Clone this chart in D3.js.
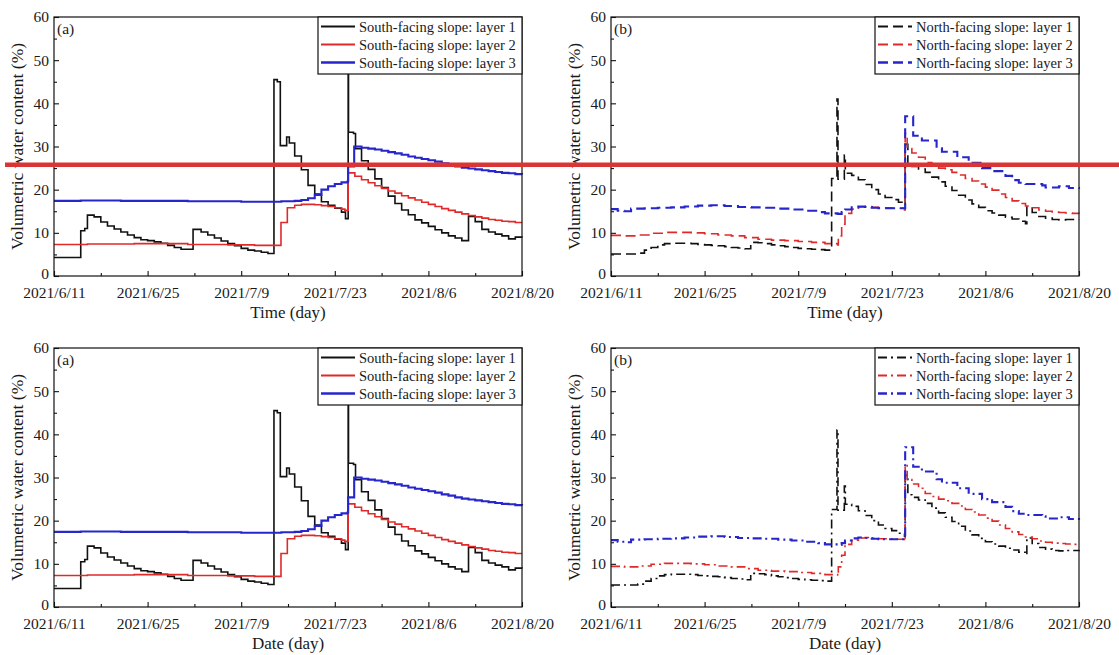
<!DOCTYPE html>
<html>
<head>
<meta charset="utf-8">
<script src="https://cdn.jsdelivr.net/npm/d3@7"></script>
<style>
  html, body { margin: 0; padding: 0; background: #fff; }
  svg { display: block; font-family: "Liberation Serif", "Times New Roman", serif; }
</style>
</head>
<body>
<svg id="chart" width="1119" height="655"></svg>
<script>
// ---------- data (day offset from 2021/6/11, volumetric water content %) ----------
const startDate = new Date(2021, 5, 11);
const endDate = new Date(2021, 7, 20);
const majorTickDays = [0, 14, 28, 42, 56, 70];
const minorTickDays = [7, 21, 35, 49, 63];
const yMajorTicks = [0, 10, 20, 30, 40, 50, 60];
const yMinorTicks = [5, 15, 25, 35, 45, 55];

const southLabels = ["South-facing slope: layer 1", "South-facing slope: layer 2", "South-facing slope: layer 3"];
const northLabels = ["North-facing slope: layer 1", "North-facing slope: layer 2", "North-facing slope: layer 3"];

const southL1 = [[0,4.3],[4,10.5],[4.6,11.0],[5,14.1],[6,13.7],[7,12.5],[8,11.6],[9,10.9],[10,10.2],[11,9.5],[12,8.9],[13,8.4],[14,8.2],[15,7.9],[16,7.6],[17,7.1],[18,6.6],[19,6.2],[20.8,10.8],[22,10.2],[23,9.5],[24,8.8],[25,8.1],[26,7.5],[27,7.0],[28,6.4],[29,6.0],[30,5.8],[31,5.5],[32,5.2],[32.9,45.5],[33.4,45.0],[33.85,30.2],[34.8,32.2],[35.2,30.8],[36,27.8],[37,24.6],[38,21.0],[39,19.0],[40,17.2],[41,16.4],[42,15.7],[43,14.8],[43.6,13.3],[44,52.0],[44.05,33.3],[44.8,33.0],[45.1,29.5],[46,26.7],[47,24.7],[48,22.5],[49,20.5],[50,18.5],[51,16.8],[52,15.3],[53,14.2],[54,13.0],[55,12.3],[56,11.5],[57,10.7],[58,10.0],[59,9.3],[60,8.8],[61,8.2],[62,13.8],[63,12.6],[64,10.8],[65,10.2],[66,9.7],[67,9.3],[68,8.6],[69,9.0],[70,8.9]];
const southL2 = [[0,7.3],[5,7.4],[12,7.5],[20,7.3],[26,7.2],[30,7.1],[33.95,12.4],[34.9,15.8],[36,16.4],[37,16.6],[39,16.5],[40,16.3],[41,16.1],[42,15.8],[43,15.5],[43.5,15.2],[44,23.9],[45,23.1],[46,22.3],[47,21.6],[48,20.9],[49,20.3],[50,19.7],[51,19.2],[52,18.6],[53,18.1],[54,17.6],[55,17.1],[56,16.6],[57,16.1],[58,15.6],[59,15.2],[60,14.8],[61,14.4],[62,14.0],[63,13.7],[64,13.4],[65,13.1],[66,12.9],[67,12.7],[68,12.6],[69,12.4],[70,12.4]];
const southL3 = [[0,17.4],[4,17.5],[10,17.4],[20,17.3],[28,17.2],[34,17.3],[36,17.4],[37,17.6],[38,18.0],[39,18.8],[40,20.0],[41,20.8],[42,21.3],[43,21.7],[43.9,21.9],[44,25.4],[44.9,30.0],[46,29.7],[47,29.5],[48,29.3],[49,29.0],[50,28.7],[51,28.4],[52,28.1],[53,27.7],[54,27.4],[55,27.1],[56,26.8],[57,26.5],[58,26.1],[59,25.8],[60,25.4],[61,25.1],[62,24.9],[63,24.7],[64,24.5],[65,24.3],[66,24.1],[67,23.9],[68,23.8],[69,23.6],[70,23.5]];

const northL1 = [[0,5.1],[4,5.3],[5,6.0],[6,6.6],[7,7.2],[8,7.5],[9,7.6],[12,7.5],[13,7.3],[14,7.2],[15,7.1],[16,7.0],[17,6.8],[18,6.6],[19,6.5],[20,6.3],[20.9,7.8],[22,7.7],[23,7.5],[24,7.2],[25,7.0],[26,6.8],[27,6.6],[28,6.4],[29,6.3],[30,6.2],[31,6.1],[32,6.0],[33,22.6],[33.8,41.0],[33.95,22.4],[34.9,28.0],[35.05,23.8],[36,23.3],[37,22.3],[38,21.2],[39,20.0],[40,19.0],[41,18.2],[42,17.7],[43,17.1],[43.9,16.4],[44,30.5],[44.4,26.0],[45,25.4],[46,24.8],[47,24.0],[48,22.9],[49,21.8],[50,20.8],[51,19.8],[52,18.7],[53,17.6],[54,16.7],[55,15.9],[56,15.1],[57,14.6],[58,14.1],[59,13.6],[60,13.2],[61,12.7],[62,12.1],[62.2,16.0],[63,14.7],[64,13.8],[65,13.4],[66,13.1],[67,13.0],[68,13.1],[70,13.2]];
const northL2 = [[0,9.4],[2,9.3],[4,9.5],[6,9.9],[8,10.1],[10,10.1],[12,10.0],[14,9.8],[16,9.5],[18,9.3],[20,8.9],[22,8.5],[24,8.3],[26,8.2],[28,8.0],[30,7.8],[32,7.5],[33.9,7.2],[34.0,9.3],[34.5,12.0],[35,14.5],[36,15.5],[37,16.0],[38,16.1],[39,15.9],[40,15.8],[42,15.7],[43.9,15.3],[44,33.0],[44.3,29.5],[45,28.5],[46,27.5],[47,26.3],[48,25.6],[49,25.0],[50,24.6],[51,24.0],[52,23.4],[53,22.6],[54,22.0],[55,21.3],[56,20.6],[57,19.9],[58,19.0],[59,18.2],[60,17.4],[61,16.8],[62,16.2],[63,15.8],[64,15.3],[65,15.0],[66,14.8],[67,14.7],[68,14.6],[69,14.5],[70,14.4]];
const northL3 = [[0,15.5],[1,15.1],[2,15.0],[3,15.6],[5,15.7],[7,15.8],[9,15.9],[11,16.1],[13,16.3],[15,16.4],[17,16.2],[19,16.0],[21,15.9],[23,15.8],[25,15.6],[27,15.4],[29,15.1],[31,14.8],[32,14.5],[33.9,14.4],[34.5,14.8],[35,15.4],[36,15.9],[37,16.1],[38,16.0],[39,15.8],[40,15.7],[43.9,15.7],[44,37.0],[45.2,32.5],[46.5,31.4],[48.7,29.6],[49.5,28.8],[51.8,27.5],[53.5,26.2],[55.5,25.0],[57,24.3],[59,23.2],[60,22.2],[61,21.6],[62,21.3],[64.5,21.0],[65,20.5],[67,20.8],[68.5,20.4],[70,20.2]];

const overlayValue = 25.8; // horizontal red marker line across the top row

// ---------- styling ----------
const colors = ["#111111", "#e02a2a", "#2626cc"];
const widths = [1.6, 1.6, 2.1];
const W = 468, H = 259;

const panels = [
  { x: 54,  y: 17,  letter: "(a)", labels: southLabels, series: [southL1, southL2, southL3], dash: null,        xTitle: "Time (day)", legX: 318 },
  { x: 611, y: 17,  letter: "(b)", labels: northLabels, series: [northL1, northL2, northL3], dash: "10,5",      xTitle: "Time (day)", legX: 875 },
  { x: 54,  y: 348, letter: "(a)", labels: southLabels, series: [southL1, southL2, southL3], dash: null,        xTitle: "Date (day)", legX: 318 },
  { x: 611, y: 348, letter: "(b)", labels: northLabels, series: [northL1, northL2, northL3], dash: "9,4,2,4",   xTitle: "Date (day)", legX: 875 }
];

const svg = d3.select("#chart");
svg.append("rect").attr("width", 1119).attr("height", 655).attr("fill", "#fff");

const toDate = d => new Date(startDate.getTime() + d * 86400000);
const fmt = d => `${d.getFullYear()}/${d.getMonth() + 1}/${d.getDate()}`;

let topY = null;

panels.forEach((p, pi) => {
  const g = svg.append("g").attr("transform", `translate(${p.x},${p.y})`);
  const x = d3.scaleTime().domain([startDate, endDate]).range([0, W]);
  const y = d3.scaleLinear().domain([0, 60]).range([H, 0]);
  if (pi === 0) topY = y;

  // lines
  const line = d3.line()
    .x(d => x(toDate(d[0])))
    .y(d => y(d[1]))
    .curve(d3.curveStepAfter);
  p.series.forEach((s, i) => {
    g.append("path")
      .datum(s)
      .attr("d", line)
      .attr("fill", "none")
      .attr("stroke", colors[i])
      .attr("stroke-width", widths[i])
      .attr("stroke-dasharray", p.dash)
      .attr("stroke-linejoin", "miter");
  });

  // axes
  const xMajor = majorTickDays.map(toDate);
  const xMinor = minorTickDays.map(toDate);
  g.append("g").attr("transform", `translate(0,${H})`)
    .call(d3.axisBottom(x).tickValues(xMajor).tickFormat(fmt).tickSize(-5).tickSizeOuter(0).tickPadding(11));
  g.append("g").attr("transform", `translate(0,${H})`)
    .call(d3.axisBottom(x).tickValues(xMinor).tickFormat("").tickSize(-3).tickSizeOuter(0));
  const yAx = g.append("g")
    .call(d3.axisLeft(y).tickValues(yMajorTicks).tickSize(-5).tickSizeOuter(0).tickPadding(5));
  g.append("g")
    .call(d3.axisLeft(y).tickValues(yMinorTicks).tickFormat("").tickSize(-3).tickSizeOuter(0));
  // lift the "0" label slightly so it clears the first date label
  yAx.selectAll(".tick").filter(d => d === 0).select("text").attr("y", -2);

  g.selectAll(".domain").remove();
  g.selectAll(".tick line").attr("stroke", "#111").attr("stroke-width", 1.1);
  g.selectAll(".tick text").attr("font-family", "Liberation Serif").attr("font-size", 15.5).attr("fill", "#1a1a1a");

  // frame
  g.append("rect").attr("x", 0).attr("y", 0).attr("width", W).attr("height", H)
    .attr("fill", "none").attr("stroke", "#111").attr("stroke-width", 1.2);

  // panel letter
  g.append("text").attr("x", 3).attr("y", 17).attr("font-size", 15.5).attr("fill", "#1a1a1a").text(p.letter);

  // axis titles
  g.append("text")
    .attr("transform", `translate(${-37},${H / 2}) rotate(-90)`)
    .attr("text-anchor", "middle").attr("dy", "0.35em")
    .attr("font-size", 17.5).attr("fill", "#1a1a1a")
    .text("Volumetric water content (%)");
  g.append("text")
    .attr("x", W / 2).attr("y", H + 42)
    .attr("text-anchor", "middle")
    .attr("font-size", 17).attr("fill", "#1a1a1a")
    .text(p.xTitle);

  // legend
  const lx = p.legX - p.x, lw = W - lx, lh = 57;
  const leg = g.append("g");
  leg.append("rect").attr("x", lx).attr("y", 0).attr("width", lw).attr("height", lh)
    .attr("fill", "#fff").attr("stroke", "#111").attr("stroke-width", 1.2);
  p.labels.forEach((lab, i) => {
    const cy = 9.5 + i * 18;
    leg.append("line").attr("x1", lx + 3).attr("x2", lx + 37).attr("y1", cy).attr("y2", cy)
      .attr("stroke", colors[i]).attr("stroke-width", widths[i] + 0.4)
      .attr("stroke-dasharray", p.dash);
    leg.append("text").attr("x", lx + 41).attr("y", cy).attr("dy", "0.35em")
      .attr("font-size", 14.5).attr("fill", "#1a1a1a").text(lab);
  });
});

// red horizontal marker line across the top row
svg.append("line")
  .attr("x1", 5).attr("x2", 1119)
  .attr("y1", panels[0].y + topY(overlayValue)).attr("y2", panels[0].y + topY(overlayValue))
  .attr("stroke", "#da3434").attr("stroke-width", 4.5);
</script>
</body>
</html>
